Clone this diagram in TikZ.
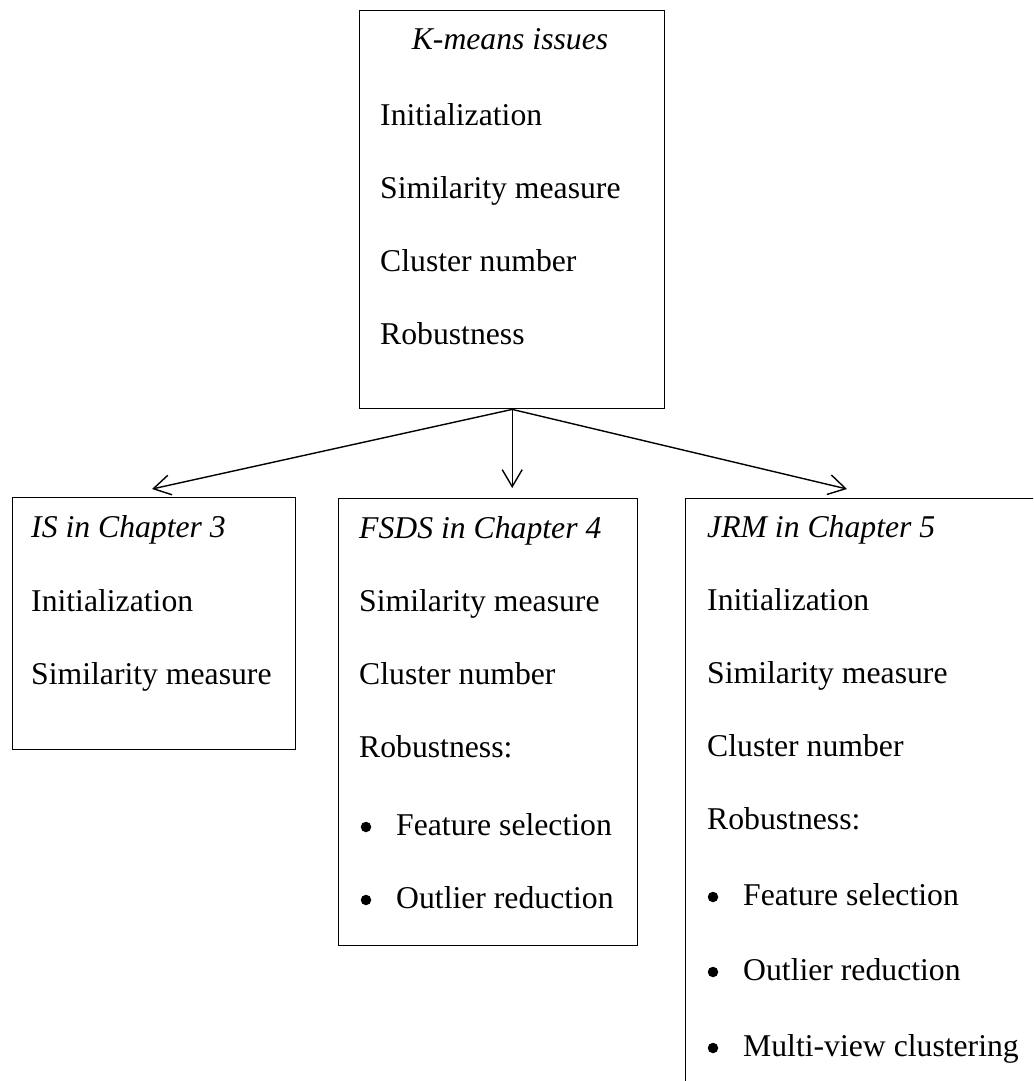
\documentclass[tikz,border=0pt]{standalone}
\usepackage{fontspec}
\setmainfont{Liberation Serif}
\usetikzlibrary{arrows.meta}
\begin{document}
\begin{tikzpicture}[x=1pt,y=-1pt,
  box/.style={draw, line width=1.4pt, rectangle, inner sep=0pt, anchor=north west},
  txt/.style={anchor=base west, inner sep=0pt, font=\fontsize{31.7}{38}\selectfont},
  ttl/.style={anchor=base west, inner sep=0pt, font=\fontsize{31.7}{38}\selectfont\itshape},
  bul/.style={circle, fill, inner sep=0pt, minimum size=10.5pt},
  arr/.style={line width=1.4pt, -{Straight Barb[length=17pt,width=20pt,line width=1.4pt]}}]
\useasboundingbox (0,0) rectangle (1033,1081);
\clip (0,0) rectangle (1033,1081);

% boxes
\node[box, minimum width=305pt, minimum height=398pt] (top) at (359,10) {};
\node[box, minimum width=283pt, minimum height=252pt] (lbox) at (12,497) {};
\node[box, minimum width=299pt, minimum height=447pt] (mbox) at (338,498) {};
\node[box, minimum width=420pt, minimum height=700pt] (rbox) at (685,498) {};

% top box text
\node[ttl, anchor=base] (t0) at (510,50) {K-means issues};
\node[txt] (t1) at (380,125) {Initialization};
\node[txt] (t2) at (380,198) {Similarity measure};
\node[txt] (t3) at (380,271) {Cluster number};
\node[txt] (t4) at (380,344) {Robustness};

% left box text
\node[ttl] (l0) at (31,537) {IS in Chapter 3};
\node[txt] (l1) at (31,611) {Initialization};
\node[txt] (l2) at (31,684) {Similarity measure};

% middle box text
\node[ttl] (m0) at (359,538) {FSDS in Chapter 4};
\node[txt] (m1) at (359,611) {Similarity measure};
\node[txt] (m2) at (359,684) {Cluster number};
\node[txt] (m3) at (359,757) {Robustness:};
\node[bul] (mb1) at (366,827) {};
\node[txt] (m4) at (396,835) {Feature selection};
\node[bul] (mb2) at (366,900) {};
\node[txt] (m5) at (396,908) {Outlier reduction};

% right box text
\node[ttl] (r0) at (707,537) {JRM in Chapter 5};
\node[txt] (r1) at (707,610) {Initialization};
\node[txt] (r2) at (707,683) {Similarity measure};
\node[txt] (r3) at (707,756) {Cluster number};
\node[txt] (r4) at (707,829) {Robustness:};
\node[bul] (rb1) at (713,897) {};
\node[txt] (r5) at (743,905) {Feature selection};
\node[bul] (rb2) at (713,972) {};
\node[txt] (r6) at (743,980) {Outlier reduction};
\node[bul] (rb3) at (713,1048) {};
\node[txt] (r7) at (743,1056) {Multi-view clustering};

% arrow ends
\coordinate (el) at (152,489);
\coordinate (em) at (top.south |- 0,488);
\coordinate (er) at (847,489);

\draw[arr] (top.south) -- (el);
\draw[arr] (top.south) -- (em);
\draw[arr] (top.south) -- (er);
\end{tikzpicture}
\end{document}
